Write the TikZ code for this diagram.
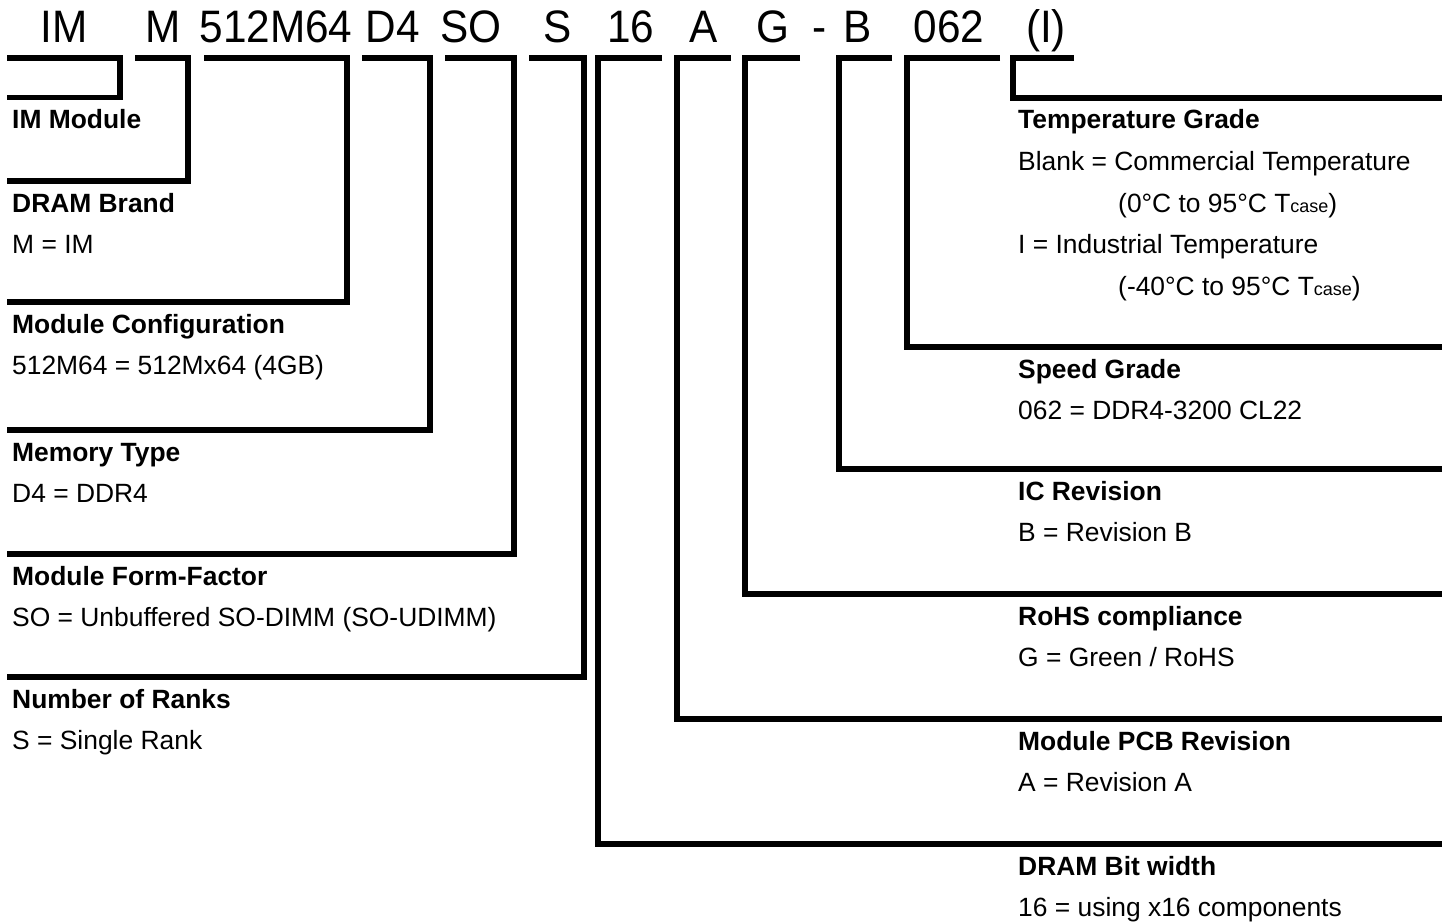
\documentclass[tikz,border=0pt]{standalone}
\usepackage{fontspec}
\setmainfont{Liberation Sans}
\newfontfamily\codefont[FakeStretch=0.93]{Liberation Sans}
\begin{document}
\begin{tikzpicture}[x=1pt,y=-1pt,
  bar/.style={line width=5.5pt, line join=miter, line cap=butt},
  code/.style={font=\codefont\fontsize{45.5}{45.5}\selectfont, anchor=base, inner sep=0pt},
  head/.style={font=\fontsize{26.4}{26.4}\selectfont\bfseries, anchor=base west, inner sep=0pt},
  desc/.style={font=\fontsize{26.4}{26.4}\selectfont, anchor=base west, inner sep=0pt}]
\useasboundingbox (0,0) rectangle (1449,923);
\newcommand{\tcase}{T{\fontsize{18}{18}\selectfont case}}
% part number
\node[code] (cIM)  at (64,43)   {IM};
\node[code] (cM)   at (163,43)  {M};
\node[code] (cCfg) at (276,43)  {512M64};
\node[code] (cD4)  at (393,43)  {D4};
\node[code] (cSO)  at (471,43)  {SO};
\node[code] (cS)   at (558,43)  {S};
\node[code] (c16)  at (631,43)  {16};
\node[code] (cA)   at (704,43)  {A};
\node[code] (cG)   at (773,43)  {G};
\node[code] (cDash) at (820,43) {-};
\node[code] (cB)   at (858,43)  {B};
\node[code] (c062) at (949,43)  {062};
\node[code] (cI)   at (1046,43) {(I)};
% left brackets
\draw[bar] (7,58) -- (120,58) -- (120,97.5) -- (7,97.5);
\draw[bar] (135,58) -- (188,58) -- (188,181) -- (7,181);
\draw[bar] (204,58) -- (347,58) -- (347,302) -- (7,302);
\draw[bar] (362,58) -- (430,58) -- (430,430) -- (7,430);
\draw[bar] (445,58) -- (514,58) -- (514,554) -- (7,554);
\draw[bar] (529,58) -- (584,58) -- (584,677) -- (7,677);
% right brackets
\draw[bar] (662,58) -- (598,58) -- (598,844) -- (1442,844);
\draw[bar] (731,58) -- (677,58) -- (677,719) -- (1442,719);
\draw[bar] (800,58) -- (745,58) -- (745,594) -- (1442,594);
\draw[bar] (892,58) -- (839,58) -- (839,469) -- (1442,469);
\draw[bar] (1000,58) -- (907,58) -- (907,347) -- (1442,347);
\draw[bar] (1074,58) -- (1013,58) -- (1013,98) -- (1442,98);
% left descriptions
\node[head] (tIM) at (12,128.5) {IM Module};
\node[head] (tBrand) at (12,212) {DRAM Brand};
\node[desc] (dBrand) at (12,253.5) {M = IM};
\node[head] (tCfg) at (12,333) {Module Configuration};
\node[desc] (dCfg) at (12,374.5) {512M64 = 512Mx64 (4GB)};
\node[head] (tType) at (12,461) {Memory Type};
\node[desc] (dType) at (12,502.5) {D4 = DDR4};
\node[head] (tForm) at (12,585) {Module Form-Factor};
\node[desc] (dForm) at (12,626.5) {SO = Unbuffered SO-DIMM (SO-UDIMM)};
\node[head] (tRank) at (12,708) {Number of Ranks};
\node[desc] (dRank) at (12,749.5) {S = Single Rank};
% right descriptions
\node[head] (tTemp) at (1018,129) {Temperature Grade};
\node[desc] (dTemp1) at (1018,170.5) {Blank = Commercial Temperature};
\node[desc] (dTemp2) at (1118,212) {(0°C to 95°C \tcase)};
\node[desc] (dTemp3) at (1018,253.5) {I = Industrial Temperature};
\node[desc] (dTemp4) at (1118,295) {(-40°C to 95°C \tcase)};
\node[head] (tSpeed) at (1018,378) {Speed Grade};
\node[desc] (dSpeed) at (1018,419.5) {062 = DDR4-3200 CL22};
\node[head] (tIC) at (1018,500) {IC Revision};
\node[desc] (dIC) at (1018,541.5) {B = Revision B};
\node[head] (tRoHS) at (1018,625) {RoHS compliance};
\node[desc] (dRoHS) at (1018,666.5) {G = Green / RoHS};
\node[head] (tPCB) at (1018,750) {Module PCB Revision};
\node[desc] (dPCB) at (1018,791.5) {A = Revision A};
\node[head] (tBit) at (1018,875) {DRAM Bit width};
\node[desc] (dBit) at (1018,916.5) {16 = using x16 components};
\end{tikzpicture}
\end{document}
